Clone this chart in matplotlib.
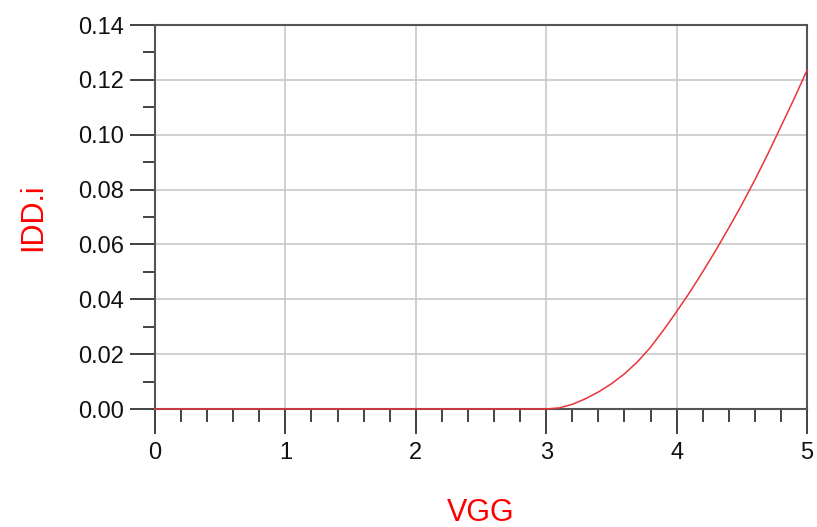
import matplotlib
matplotlib.use("Agg")
import matplotlib.pyplot as plt
from matplotlib.ticker import MultipleLocator, FormatStrFormatter

plt.rcParams['font.family'] = ['Liberation Sans', 'DejaVu Sans']

vgg = [0.0, 3.0, 3.1, 3.2, 3.3, 3.4, 3.5, 3.6, 3.7, 3.8, 3.9, 4.0,
       4.1, 4.2, 4.3, 4.4, 4.5, 4.6, 4.7, 4.8, 4.9, 5.0]
idd = [0.0, 0.0, 0.0004, 0.0017, 0.0037, 0.0062, 0.0092, 0.0128, 0.0172,
       0.0225, 0.0288, 0.0355, 0.0425, 0.0500, 0.0578, 0.0660, 0.0745,
       0.0835, 0.0930, 0.1030, 0.1130, 0.1235]

x_ticks = [0, 1, 2, 3, 4, 5]
y_ticks = [0.00, 0.02, 0.04, 0.06, 0.08, 0.10, 0.12, 0.14]

fig = plt.figure(figsize=(8.17, 5.27), dpi=100)
ax = fig.add_axes([155/817, 1 - 409/527, (807-155)/817, (409-25)/527])

ax.plot(vgg, idd, color='#e8343c', lw=1.1, zorder=3, clip_on=False)

ax.set_xlim(0, 5)
ax.set_ylim(0, 0.14)
ax.set_xticks(x_ticks)
ax.set_yticks(y_ticks)
ax.yaxis.set_major_formatter(FormatStrFormatter('%.2f'))
ax.xaxis.set_minor_locator(MultipleLocator(0.2))
ax.yaxis.set_minor_locator(MultipleLocator(0.01))

ax.grid(True, which='major', color='#c8c8c8', lw=1.2)
ax.set_axisbelow(True)

for s in ax.spines.values():
    s.set_color('#555555')
    s.set_linewidth(1.5)

ax.tick_params(axis='both', which='major', direction='out', length=18,
               width=1.3, color='#333333', labelsize=17, labelcolor='#111111')
ax.tick_params(axis='both', which='minor', direction='out', length=9,
               width=1.3, color='#333333')
ax.tick_params(axis='x', which='major', pad=6)
ax.tick_params(axis='y', which='major', pad=4)

ax.set_xlabel('VGG', color='#ff0000', fontsize=22, labelpad=24)
ax.set_ylabel('IDD.i', color='#ff0000', fontsize=22, labelpad=22)

fig.savefig('out.png', dpi=100, facecolor='white')
